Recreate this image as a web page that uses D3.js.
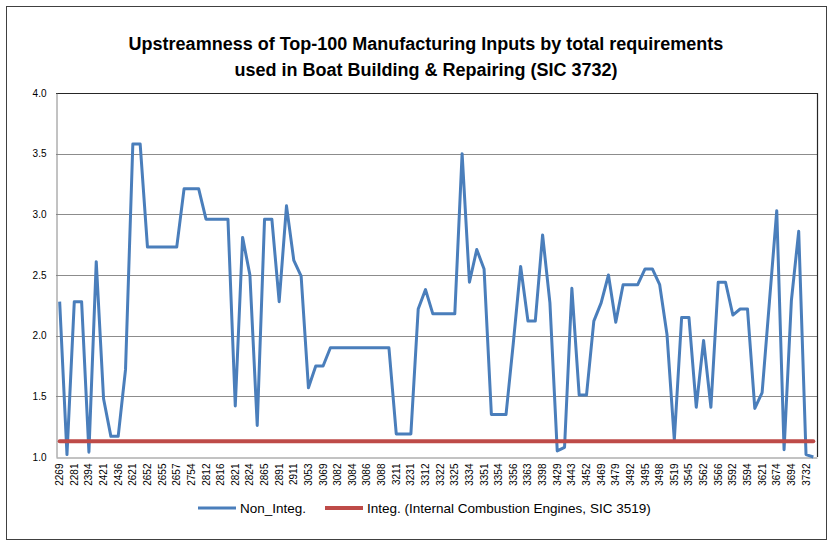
<!DOCTYPE html>
<html>
<head>
<meta charset="utf-8">
<script src="https://cdn.jsdelivr.net/npm/d3@7"></script>
<style>
  html, body { margin: 0; padding: 0; background: #fff; }
  svg { display: block; }
  text { font-family: "Liberation Sans", Arial, sans-serif; }
</style>
</head>
<body>
<svg id="chart" width="835" height="546"></svg>
<script>
// ---------------- data ----------------
const titleLines = [
  "Upstreamness of Top-100 Manufacturing Inputs by total requirements",
  "used in Boat Building & Repairing (SIC 3732)"
];

// labels shown on the category axis (every second category)
const tickLabels = [
  "2269","2281","2394","2421","2436","2621","2652","2655","2657","2754",
  "2812","2816","2821","2824","2865","2891","2911","3053","3069","3082",
  "3084","3086","3088","3211","3231","3312","3322","3325","3334","3351",
  "3354","3356","3363","3398","3429","3443","3452","3469","3479","3492",
  "3495","3498","3519","3545","3562","3566","3592","3594","3621","3674",
  "3694","3732"
];

// Non_Integ. series (104 categories)
const nonInteg = [
  2.28, 1.02, 2.28, 2.28, 1.04, 2.61, 1.48, 1.17, 1.17, 1.72,
  3.58, 3.58, 2.73, 2.73, 2.73, 2.73, 2.73, 3.21, 3.21, 3.21,
  2.96, 2.96, 2.96, 2.96, 1.42, 2.81, 2.50, 1.26, 2.96, 2.96,
  2.28, 3.07, 2.62, 2.49, 1.57, 1.75, 1.75, 1.90, 1.90, 1.90,
  1.90, 1.90, 1.90, 1.90, 1.90, 1.90, 1.19, 1.19, 1.19, 2.22,
  2.38, 2.18, 2.18, 2.18, 2.18, 3.50, 2.44, 2.71, 2.55, 1.35,
  1.35, 1.35, 1.94, 2.57, 2.12, 2.12, 2.83, 2.27, 1.05, 1.08,
  2.39, 1.51, 1.51, 2.12, 2.27, 2.50, 2.11, 2.42, 2.42, 2.42,
  2.55, 2.55, 2.42, 2.01, 1.14, 2.15, 2.15, 1.41, 1.96, 1.41,
  2.44, 2.44, 2.17, 2.22, 2.22, 1.40, 1.53, 2.28, 3.03, 1.06,
  2.29, 2.86, 1.02, 1.00
];

// Integ. (Internal Combustion Engines, SIC 3519) - constant level
const integLevel = 1.13;

const yTicks = [1.0, 1.5, 2.0, 2.5, 3.0, 3.5, 4.0];
const seriesNames = ["Non_Integ.", "Integ. (Internal Combustion Engines, SIC 3519)"];
const seriesColors = ["#4a7ebb", "#be4b48"];

// ---------------- layout ----------------
const svg = d3.select("#chart");
const plot = { left: 56, top: 93, right: 817, bottom: 457 };

// chart area border
svg.append("rect")
  .attr("x", 6.5).attr("y", 6.5)
  .attr("width", 820).attr("height", 533)
  .attr("fill", "#fff").attr("stroke", "#404040").attr("stroke-width", 1);

// title
svg.append("g").selectAll("text").data(titleLines).join("text")
  .attr("x", 426)
  .attr("y", (d, i) => 50 + i * 26)
  .attr("text-anchor", "middle")
  .attr("font-size", "18px")
  .attr("font-weight", "bold")
  .attr("fill", "#000")
  .text(d => d);

// scales
const idx = d3.range(nonInteg.length);
const x = d3.scaleBand().domain(idx).range([plot.left, plot.right]).padding(0);
const cx = i => x(i) + x.bandwidth() / 2;
const y = d3.scaleLinear().domain([1, 4]).range([plot.bottom, plot.top]);

// gridlines
svg.append("g").selectAll("line").data(yTicks.filter(t => t > 1 && t < 4)).join("line")
  .attr("x1", plot.left).attr("x2", plot.right)
  .attr("y1", d => Math.round(y(d)) + 0.5).attr("y2", d => Math.round(y(d)) + 0.5)
  .attr("stroke", "#8c8c8c").attr("stroke-width", 1);

// plot area border (top/right dark)
svg.append("path")
  .attr("d", `M${plot.left},${plot.top + 0.5}H${plot.right + 0.5}V${plot.bottom}`)
  .attr("fill", "none").attr("stroke", "#262626").attr("stroke-width", 1.2);

// y axis
const yAxis = svg.append("g")
  .attr("transform", `translate(${plot.left + 0.5},0)`)
  .call(d3.axisLeft(y).tickValues(yTicks).tickFormat(d3.format(".1f")).tickSize(0).tickPadding(10));
yAxis.select(".domain").attr("stroke", "#868686");
yAxis.selectAll("text").attr("font-size", "10px").attr("fill", "#000")
  .attr("font-family", "Liberation Sans, Arial, sans-serif");

// x axis
const xAxis = svg.append("g")
  .attr("transform", `translate(0,${plot.bottom + 0.5})`)
  .call(d3.axisBottom(x)
    .tickValues(idx.filter(i => i % 2 === 0))
    .tickFormat(i => tickLabels[i / 2])
    .tickSize(0).tickPadding(0));
xAxis.select(".domain").attr("stroke", "#868686");
xAxis.selectAll("text")
  .attr("font-size", "10px").attr("fill", "#000")
  .attr("font-family", "Liberation Sans, Arial, sans-serif")
  .attr("transform", "rotate(-90)")
  .attr("text-anchor", "end")
  .attr("x", -6).attr("y", 0).attr("dy", "0.35em");

// lines
const lineNon = d3.line().x((d, i) => cx(i)).y(d => y(d));
svg.append("path")
  .datum(nonInteg)
  .attr("d", lineNon)
  .attr("fill", "none")
  .attr("stroke", seriesColors[0])
  .attr("stroke-width", 3)
  .attr("stroke-linejoin", "round");

const lineInteg = d3.line().x(i => cx(i)).y(() => y(integLevel));
svg.append("path")
  .datum(idx)
  .attr("d", lineInteg)
  .attr("fill", "none")
  .attr("stroke", seriesColors[1])
  .attr("stroke-width", 4)
  .attr("stroke-linecap", "round");

// legend
const legendItems = [
  { name: seriesNames[0], color: seriesColors[0], x: 198, w: 3 },
  { name: seriesNames[1], color: seriesColors[1], x: 325, w: 4 }
];
const lg = svg.append("g").selectAll("g").data(legendItems).join("g")
  .attr("transform", d => `translate(${d.x},508)`);
lg.append("line").attr("x1", 0).attr("x2", 38).attr("y1", 0).attr("y2", 0)
  .attr("stroke", d => d.color).attr("stroke-width", d => d.w);
lg.append("text").attr("x", 42).attr("y", 0).attr("dy", "0.35em")
  .attr("font-size", "13.5px").attr("fill", "#000")
  .text(d => d.name);
</script>
</body>
</html>
